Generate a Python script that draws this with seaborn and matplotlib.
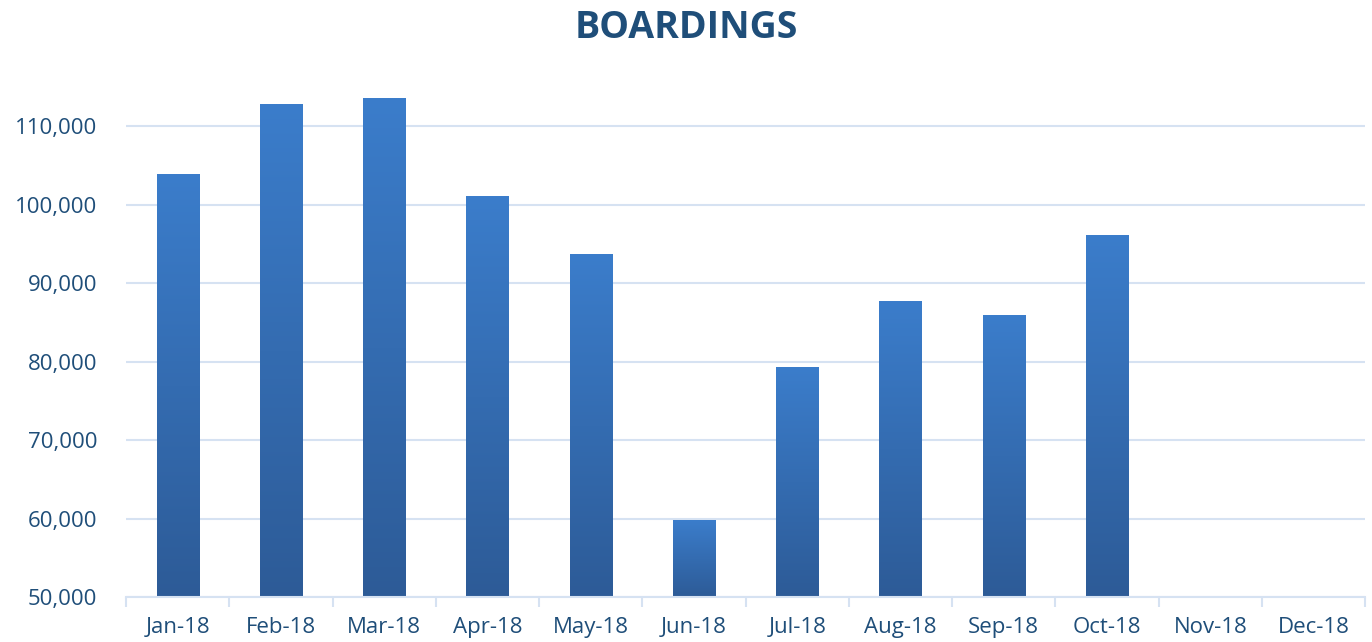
import numpy as np
import pandas as pd
import matplotlib
matplotlib.use("Agg")
import matplotlib.pyplot as plt
import seaborn as sns
from matplotlib.colors import LinearSegmentedColormap

months = ["Jan-18", "Feb-18", "Mar-18", "Apr-18", "May-18", "Jun-18",
          "Jul-18", "Aug-18", "Sep-18", "Oct-18", "Nov-18", "Dec-18"]
boardings = [103800, 112800, 113500, 101000, 93600, 59800,
             79200, 87600, 85800, 96100, np.nan, np.nan]

df = pd.DataFrame({"month": months, "boardings": boardings})

sns.set_theme(style="white")
plt.rcParams["font.family"] = ["Open Sans", "DejaVu Sans"]

text_color = "#1F4E79"
grid_color = "#D6E2F2"
y_min, y_max = 50000, 116000

fig = plt.figure(figsize=(13.72, 6.42), dpi=100)
ax = fig.add_axes([0.092, 0.070, 0.903, 0.807])

sns.barplot(data=df, x="month", y="boardings", order=months, color="#3A7CC9",
            width=0.41, ax=ax, zorder=3)

ax.set_ylim(y_min, y_max)
ax.set_xlim(-0.5, 11.5)

cmap = LinearSegmentedColormap.from_list("g", ["#2D5B97", "#3B7DCB"])
grad = np.linspace(0, 1, 256).reshape(-1, 1)
for p in list(ax.patches):
    h = p.get_height()
    if not np.isfinite(h) or h == 0:
        continue
    x0 = p.get_x()
    w = p.get_width()
    ax.imshow(grad, cmap=cmap, aspect="auto", origin="lower",
              extent=[x0, x0 + w, y_min, h], zorder=3)
    p.set_facecolor("none")
    p.set_edgecolor("none")
ax.set_aspect("auto")
ax.set_ylim(y_min, y_max)
ax.set_xlim(-0.5, 11.5)

ax.set_yticks(np.arange(50000, 110001, 10000))
ax.set_yticklabels([f"{v:,}" for v in range(50000, 110001, 10000)])
ax.yaxis.grid(True, color=grid_color, linewidth=1.5, zorder=0)
ax.set_axisbelow(True)

ax.set_xticks(range(12))
ax.set_xticklabels(months)
ax.set_xticks(np.arange(-0.5, 12.0, 1.0), minor=True)
ax.tick_params(axis="x", which="major", bottom=False, length=0, pad=14,
               labelsize=16, labelcolor=text_color)
ax.tick_params(axis="x", which="minor", bottom=True, length=7, width=1.5,
               color=grid_color, direction="out")
ax.tick_params(axis="y", length=0, pad=21, labelsize=16, labelcolor=text_color)

for s in ["top", "right", "left"]:
    ax.spines[s].set_visible(False)
ax.spines["bottom"].set_color(grid_color)
ax.spines["bottom"].set_linewidth(1.5)
ax.spines["bottom"].set_zorder(4)

ax.set_xlabel("")
ax.set_ylabel("")

fig.text(0.5, 0.957, "BOARDINGS", ha="center", va="center", fontsize=27,
         fontweight="bold", color=text_color)

fig.savefig("out.png", dpi=100, facecolor="white")
